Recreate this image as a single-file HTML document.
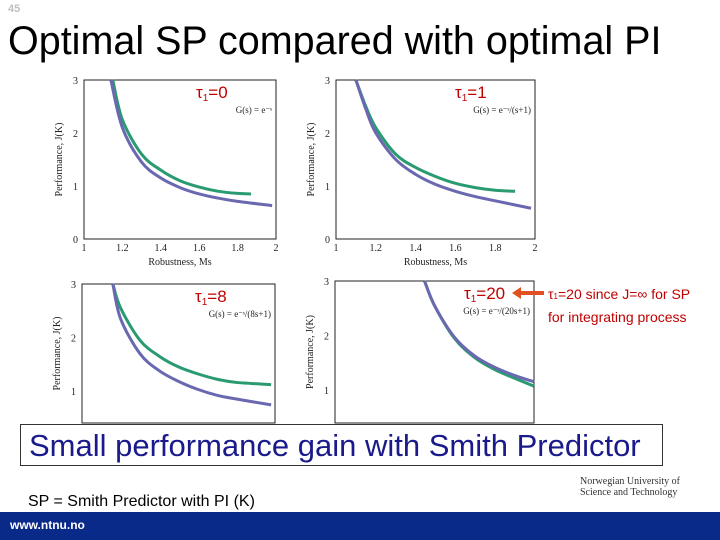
<!DOCTYPE html>
<html><head><meta charset="utf-8"><style>
body{margin:0;width:720px;height:540px;overflow:hidden;background:#fff;font-family:"Liberation Sans",sans-serif;position:relative}
.abs{position:absolute}
</style></head><body>
<div class="abs" style="left:8px;top:3px;font-size:11px;color:#c0c0c0;font-weight:bold">45</div>
<div class="abs" style="left:8px;top:19px;font-size:39.5px;color:#000;white-space:nowrap">Optimal SP compared with optimal PI</div>
<svg class="abs" style="left:0;top:0" width="720" height="540" id="plots"></svg>
<div class="abs" style="left:548px;top:284px;font-size:14px;color:#c00000;line-height:21px;white-space:nowrap">τ<span style="font-size:8px">1</span>=20 since J=∞ for SP<br>for integrating process</div>
<div class="abs" style="left:520px;top:291px;width:24px;height:4px;background:#e05020"></div>
<div class="abs" style="left:512px;top:287px;width:0;height:0;border-top:6px solid transparent;border-bottom:6px solid transparent;border-right:9px solid #e05020"></div>
<div class="abs" style="left:20px;top:424px;width:643px;height:42px;background:#fff;border:1px solid #333;font-size:31px;color:#1a1a8c;line-height:42px;padding-left:8px;white-space:nowrap;box-sizing:border-box">Small performance gain with Smith Predictor</div>
<div class="abs" style="left:28px;top:493px;font-size:16px;color:#000">SP = Smith Predictor with PI (K)</div>
<div class="abs" style="left:580px;top:476px;font-family:'Liberation Serif',serif;font-size:10px;color:#333;line-height:11px">Norwegian University of<br>Science and Technology</div>
<div class="abs" style="left:0;top:512px;width:720px;height:28px;background:#0a2a8a"></div>
<div class="abs" style="left:10px;top:518px;font-size:12px;color:#fff;font-weight:bold">www.ntnu.no</div>
<script>
// chart data
const xs1=[1.15,1.2,1.3,1.4,1.5,1.6,1.7,1.8,1.87];
const pi1=[3,2.25,1.6,1.3,1.1,0.98,0.9,0.86,0.85];
const xs1sp=[1.14,1.2,1.3,1.4,1.5,1.6,1.7,1.8,1.98];
const sp1=[3,2.1,1.45,1.15,0.97,0.85,0.77,0.71,0.63];
const xs2=[1.1,1.15,1.2,1.3,1.4,1.5,1.6,1.7,1.8,1.9];
const pi2=[3,2.5,2.1,1.6,1.35,1.18,1.05,0.97,0.92,0.9];
const xs2sp=[1.1,1.15,1.2,1.3,1.4,1.5,1.6,1.7,1.8,1.98];
const sp2=[3,2.45,2.0,1.5,1.22,1.03,0.9,0.8,0.72,0.58];
const xs3=[1.16,1.2,1.3,1.4,1.5,1.6,1.7,1.8,1.98];
const pi3=[3,2.55,1.95,1.65,1.45,1.32,1.22,1.16,1.12];
const sp3=[3,2.35,1.7,1.38,1.18,1.03,0.92,0.85,0.74];
const xs4=[1.45,1.5,1.6,1.7,1.8,1.9,2.0];
const pi4=[3,2.55,1.95,1.6,1.38,1.22,1.07];
const sp4=[3,2.55,1.97,1.63,1.42,1.27,1.15];
const charts=[
 {x0:84,x1:276,y3:80,yu:53,xa:xs1,ya:pi1,xb:xs1sp,yb:sp1,ticks:true,bottomCut:false,label:'0',eq:'G(s) = e⁻ˢ',name:'tau0'},
 {x0:336,x1:535,y3:80,yu:53,xa:xs2,ya:pi2,xb:xs2sp,yb:sp2,ticks:true,bottomCut:false,label:'1',eq:'G(s) = e⁻ˢ/(s+1)',name:'tau1'},
 {x0:82,x1:275,y3:284,yu:53.5,xa:xs3,ya:pi3,xb:xs3,yb:sp3,ticks:false,bottomCut:true,label:'8',eq:'G(s) = e⁻ˢ/(8s+1)',name:'tau8'},
 {x0:335,x1:534,y3:281,yu:54.5,xa:xs4,ya:pi4,xb:xs4,yb:sp4,ticks:false,bottomCut:true,label:'20',eq:'G(s) = e⁻ˢ/(20s+1)',name:'tau20'}
];
const svg=document.getElementById('plots');
const NS='http://www.w3.org/2000/svg';
function mk(t,a,p){const e=document.createElementNS(NS,t);for(const k in a)e.setAttribute(k,a[k]);(p||svg).appendChild(e);return e;}
function smooth(pts){
 let d='M'+pts[0][0]+','+pts[0][1];
 for(let i=0;i<pts.length-1;i++){
  const p0=pts[Math.max(0,i-1)],p1=pts[i],p2=pts[i+1],p3=pts[Math.min(pts.length-1,i+2)];
  const c1=[p1[0]+(p2[0]-p0[0])/6,p1[1]+(p2[1]-p0[1])/6];
  const c2=[p2[0]-(p3[0]-p1[0])/6,p2[1]-(p3[1]-p1[1])/6];
  d+=` C${c1[0]},${c1[1]} ${c2[0]},${c2[1]} ${p2[0]},${p2[1]}`;
 }
 return d;
}
charts.forEach(c=>{
 const g=mk('g',{});
 
 
 const X=v=>c.x0+(v-1)*(c.x1-c.x0);
 const Y=v=>c.y3+(3-v)*c.yu;
 const yb=c.bottomCut?423:Y(0);
 const fr=mk('rect',{x:c.x0,y:c.y3,width:c.x1-c.x0,height:yb-c.y3,fill:'none',stroke:'#222','stroke-width':1},g);
 
 
 [0,1,2,3].forEach(v=>{ if(Y(v)>yb) return;
  const t=mk('text',{x:c.x0-6,y:Y(v)+4,'font-size':10,'text-anchor':'end','font-family':'Liberation Serif',fill:'#222'},g);t.textContent=v;
  
  });
 if(c.ticks){[1,1.2,1.4,1.6,1.8,2].forEach(v=>{
  const t=mk('text',{x:X(v),y:Y(0)+12,'font-size':10,'text-anchor':'middle','font-family':'Liberation Serif',fill:'#222'},g);t.textContent=String(v);
  
  });
  const xt=mk('text',{x:(c.x0+c.x1)/2,y:Y(0)+26,'font-size':10,'text-anchor':'middle','font-family':'Liberation Serif',fill:'#222'},g);xt.textContent='Robustness, Ms';
  
  }
 const cy=(c.y3+Math.min(yb,Y(0)))/2;
 const yt=mk('text',{x:c.x0-22,y:cy,'font-size':10,'text-anchor':'middle','font-family':'Liberation Serif',fill:'#222',transform:`rotate(-90 ${c.x0-22} ${cy})`},g);yt.textContent='Performance, J(K)';
 
 
 const pa=mk('path',{d:smooth(c.xa.map((x,i)=>[X(x),Y(c.ya[i])])),fill:'none',stroke:'#2a9a70','stroke-width':3},g);
 
 
 const pb=mk('path',{d:smooth(c.xb.map((x,i)=>[X(x),Y(c.yb[i])])),fill:'none',stroke:'#6a68b0','stroke-width':3},g);
 
 
 const lt=mk('text',{x:c.x1-80+(c.label.length>1?10:0),y:c.y3+18,'font-size':17,fill:'#c00000'},g);
 lt.innerHTML='τ<tspan font-size="10" dy="3">1</tspan><tspan dy="-3">='+c.label+'</tspan>';
 
 
 const eq=mk('text',{x:c.x1-4,y:c.y3+33,'font-size':9,'text-anchor':'end','font-family':'Liberation Serif',fill:'#222'},g);eq.textContent=c.eq;
 
 
});
</script>
</body></html>
